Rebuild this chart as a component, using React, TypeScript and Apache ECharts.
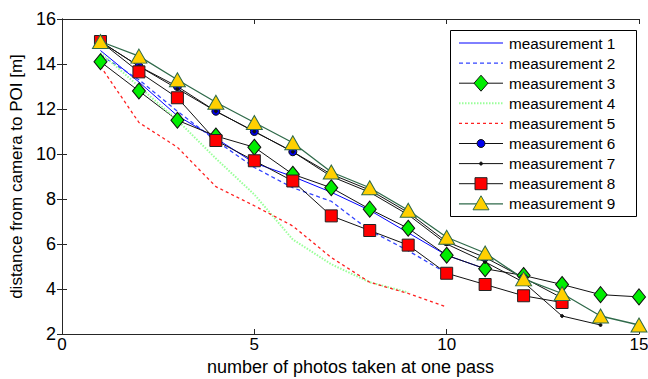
import React, { useEffect, useRef } from "react";
import * as echarts from "echarts";

const photos = [1, 2, 3, 4, 5, 6, 7, 8, 9, 10, 11, 12, 13, 14, 15];
const seriesNames = [
  "measurement 1",
  "measurement 2",
  "measurement 3",
  "measurement 4",
  "measurement 5",
  "measurement 6",
  "measurement 7",
  "measurement 8",
  "measurement 9",
];
const m1 = [14.6, 13.2, 11.7, 10.7, 9.6, 9.0, 8.3, 7.5, 6.5, 5.5, 4.9];
const m2 = [14.4, 13.3, 11.9, 10.6, 9.4, 8.5, 7.9, 6.6, 5.7, 4.7];
const m3 = [14.1, 12.8, 11.5, 10.8, 10.3, 9.1, 8.5, 7.55, 6.7, 5.5, 4.9, 4.6, 4.2, 3.75, 3.65];
const m4 = [14.5, 13.0, 11.5, 9.8, 8.2, 6.2, 5.1, 4.3, 3.85];
const m5 = [13.9, 11.4, 10.3, 8.55, 7.7, 6.8, 5.4, 4.3, 3.8, 3.2];
const m6 = [15.0, 13.9, 13.0, 11.9, 11.0, 10.1, 9.1, 8.4, 7.4, 6.1, 5.4, 4.5, 3.6];
const m7 = [15.0, 13.9, 12.9, 11.9, 11.0, 10.1, 9.0, 8.3, 7.3, 6.0, 5.2, 4.3, 2.8, 2.4];
const m8 = [15.0, 13.65, 12.5, 10.6, 9.7, 8.8, 7.25, 6.6, 5.95, 4.7, 4.2, 3.7, 3.4];
const m9 = [15.0, 14.35, 13.3, 12.3, 11.4, 10.5, 9.2, 8.5, 7.5, 6.3, 5.6, 4.45, 3.8, 2.8, 2.4];
const xTicks = [0, 5, 10, 15];
const yTicks = [2, 4, 6, 8, 10, 12, 14, 16];

const pairs = (ys: number[]) => ys.map((y, i) => [photos[i], y]);

type Sty = {
  line: any;
  marker: string;
  size: number | number[];
  fill?: string;
  edge?: string;
};

const styles: Sty[] = [
  { line: { color: "#0000ff", width: 1, type: "solid" }, marker: "none", size: 0 },
  { line: { color: "#3344ff", width: 1.3, type: [4, 3] }, marker: "none", size: 0 },
  { line: { color: "#111", width: 1, type: "solid" }, marker: "diamond", size: [13, 16], fill: "#00ee00", edge: "#111" },
  { line: { color: "#99ff99", width: 2, type: [1.5, 1.5] }, marker: "none", size: 0 },
  { line: { color: "#ff2020", width: 1.3, type: [3, 3] }, marker: "none", size: 0 },
  { line: { color: "#111", width: 1, type: "solid" }, marker: "circle", size: 8, fill: "#0000ee", edge: "#111" },
  { line: { color: "#111", width: 1, type: "solid" }, marker: "circle", size: 3, fill: "#111", edge: "#111" },
  { line: { color: "#111", width: 1, type: "solid" }, marker: "rect", size: 12, fill: "#ff0000", edge: "#222" },
  { line: { color: "#2f6a4a", width: 1.3, type: "solid" }, marker: "triangle", size: [16, 14], fill: "#ffd000", edge: "#2f6a4a" },
];
const allData = [m1, m2, m3, m4, m5, m6, m7, m8, m9];

export default function App() {
  const ref = useRef<HTMLDivElement>(null);
  useEffect(() => {
    document.body.style.margin = "0";
    const chart = echarts.init(ref.current!, null, { renderer: "svg" });
    const font = "Arial, 'Liberation Sans', sans-serif";
    const axisLine = { show: true, lineStyle: { color: "#262626", width: 1 } };
    const tick = { show: true, inside: true, length: 5, lineStyle: { color: "#262626" } };
    const black = "#000";

    const series = allData.map((d, i) => {
      const s = styles[i];
      return {
        name: seriesNames[i],
        type: "line",
        data: pairs(d),
        xAxisIndex: 0,
        yAxisIndex: 0,
        symbol: s.marker,
        symbolSize: s.size,
        lineStyle: { color: s.line.color, width: s.line.width, type: s.line.type },
        itemStyle: s.fill
          ? { color: s.fill, borderColor: s.edge, borderWidth: 1 }
          : { color: s.line.color },
      };
    });

    // legend drawn as graphic (MATLAB-style)
    const lx = 450, ly = 30, lw = 186, lh = 186;
    const x0 = 459, x1 = 503, cxm = 481, tx = 509;
    const legendEls: any[] = [
      {
        type: "rect",
        shape: { x: lx + 0.5, y: ly + 0.5, width: lw, height: lh },
        style: { fill: "#fff", stroke: "#000", lineWidth: 1 },
        z: 100,
      },
    ];
    seriesNames.forEach((name, i) => {
      const s = styles[i];
      const cy = 43 + i * 20.1;
      const dash = Array.isArray(s.line.type) ? s.line.type : null;
      legendEls.push({
        type: "line",
        shape: { x1: x0, y1: cy, x2: x1, y2: cy },
        style: { stroke: s.line.color, lineWidth: s.line.width, lineDash: dash },
        z: 101,
      });
      const ms = { fill: s.fill, stroke: s.edge, lineWidth: 1 };
      if (s.marker === "diamond") {
        legendEls.push({
          type: "polygon",
          shape: { points: [[cxm, cy - 8], [cxm + 7, cy], [cxm, cy + 8], [cxm - 7, cy]] },
          style: ms,
          z: 102,
        });
      } else if (s.marker === "circle") {
        legendEls.push({
          type: "circle",
          shape: { cx: cxm, cy, r: (s.size as number) / 2 },
          style: ms,
          z: 102,
        });
      } else if (s.marker === "rect") {
        legendEls.push({
          type: "rect",
          shape: { x: cxm - 6, y: cy - 6, width: 12, height: 12 },
          style: ms,
          z: 102,
        });
      } else if (s.marker === "triangle") {
        legendEls.push({
          type: "polygon",
          shape: { points: [[cxm, cy - 8], [cxm + 8, cy + 6], [cxm - 8, cy + 6]] },
          style: ms,
          z: 102,
        });
      }
      legendEls.push({
        type: "text",
        x: tx,
        y: cy,
        style: {
          text: name,
          fill: black,
          fontSize: 15.3,
          fontFamily: font,
          verticalAlign: "middle",
          align: "left",
        },
        z: 102,
      });
    });

    chart.setOption({
      animation: false,
      backgroundColor: "#fff",
      grid: { left: 62, right: 9, top: 19, bottom: 45, outerBoundsMode: "none", containLabel: false },
      xAxis: [
        {
          type: "value",
          min: xTicks[0],
          max: xTicks[xTicks.length - 1],
          interval: 5,
          name: "number of photos taken at one pass",
          nameLocation: "middle",
          nameGap: 17,
          nameTextStyle: { fontSize: 18, color: black, fontFamily: font },
          axisLine,
          axisTick: tick,
          axisLabel: { fontSize: 17, color: black, fontFamily: font, margin: 2 },
          splitLine: { show: false },
        },
        {
          type: "value",
          position: "top",
          min: xTicks[0],
          max: xTicks[xTicks.length - 1],
          interval: 5,
          axisLine,
          axisTick: tick,
          axisLabel: { show: false },
          splitLine: { show: false },
        },
      ],
      yAxis: [
        {
          type: "value",
          min: yTicks[0],
          max: yTicks[yTicks.length - 1],
          interval: 2,
          name: "distance from camera to POI [m]",
          nameLocation: "middle",
          nameGap: 33,
          nameTextStyle: { fontSize: 17, color: black, fontFamily: font },
          axisLine,
          axisTick: tick,
          axisLabel: { fontSize: 18, color: black, fontFamily: font, margin: 6 },
          splitLine: { show: false },
        },
        {
          type: "value",
          position: "right",
          min: yTicks[0],
          max: yTicks[yTicks.length - 1],
          interval: 2,
          axisLine,
          axisTick: tick,
          axisLabel: { show: false },
          splitLine: { show: false },
        },
      ],
      graphic: { elements: legendEls },
      series,
    });
    return () => chart.dispose();
  }, []);
  return <div ref={ref} style={{ width: 648, height: 379 }} />;
}
